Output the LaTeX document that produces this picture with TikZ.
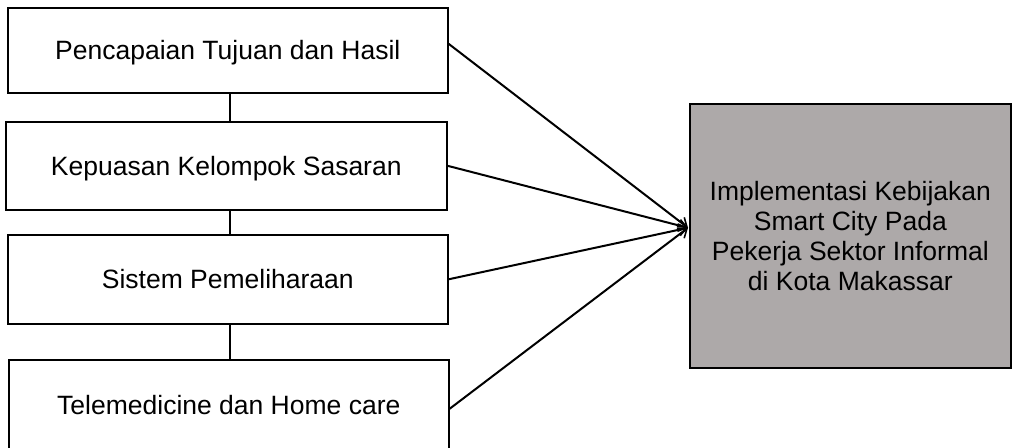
\documentclass[tikz,border=0pt]{standalone}
\usepackage{fontspec}
\setmainfont{Liberation Sans}
\usetikzlibrary{arrows.meta}
\definecolor{boxgray}{RGB}{173,169,169}
\tikzset{
  leftbox/.style={draw=black, line width=1.6pt, fill=white, anchor=north west, inner sep=0pt,
    text height=19pt, text depth=0pt, font=\fontsize{26.5}{30}\selectfont},
  targetbox/.style={draw=black, line width=1.6pt, fill=boxgray, anchor=north west, inner sep=0pt,
    align=center, font=\fontsize{26.5}{30}\selectfont},
  link/.style={line width=1.6pt},
  arrowlink/.style={line width=2pt, -{Straight Barb[length=8pt,width=12pt,line width=1.6pt]}}
}
\begin{document}
\begin{tikzpicture}[x=1pt,y=-1pt]
\useasboundingbox (0,0) rectangle (1014,447);
\clip (0,0) rectangle (1014,447);
\node[leftbox, minimum width=440pt, minimum height=85pt] (b1) at (7,7) {Pencapaian Tujuan dan Hasil};
\node[leftbox, minimum width=441pt, minimum height=88pt] (b2) at (5,121) {Kepuasan Kelompok Sasaran};
\node[leftbox, minimum width=440pt, minimum height=89pt] (b3) at (7,234) {Sistem Pemeliharaan};
\node[leftbox, minimum width=440pt, minimum height=90pt] (b4) at (8,359) {Telemedicine dan Home care};
\node[targetbox, minimum width=321pt, minimum height=264pt] (rb) at (689,103)
  {Implementasi Kebijakan\\Smart City Pada\\Pekerja Sektor Informal\\di Kota Makassar};
\coordinate (t) at ([xshift=-1pt,yshift=8pt]rb.west);
\draw[link] ([xshift=2pt]b1.south) -- ([xshift=2pt]b1.south |- b2.north);
\draw[link] ([xshift=3.5pt]b2.south) -- ([xshift=3.5pt]b2.south |- b3.north);
\draw[link] ([xshift=2pt]b3.south) -- ([xshift=2pt]b3.south |- b4.north);
\draw[arrowlink] ([yshift=6.5pt]b1.east) -- (t);
\draw[arrowlink] (b2.east) -- (t);
\draw[arrowlink] (b3.east) -- (t);
\draw[arrowlink] ([yshift=-4pt]b4.east) -- (t);
\end{tikzpicture}
\end{document}
